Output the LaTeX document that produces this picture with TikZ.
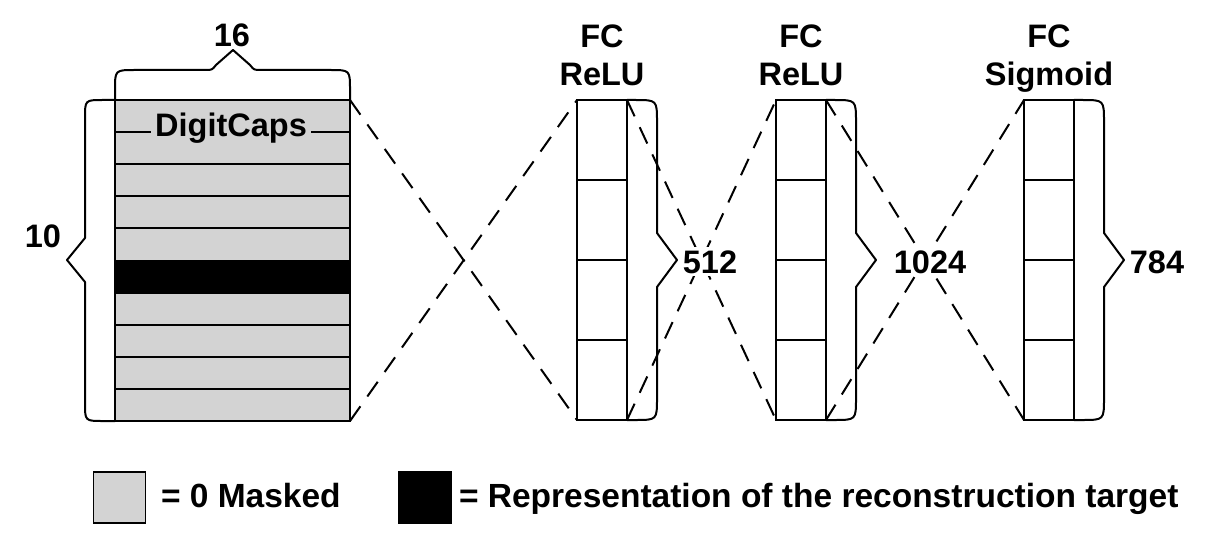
\documentclass[tikz,border=0pt]{standalone}
\usepackage{fontspec}
\setmainfont{Liberation Sans}
\definecolor{maskgray}{RGB}{211,211,211}
\begin{document}
\begin{tikzpicture}[x=1pt,y=-1pt, line width=2pt,
  lbl/.style={font=\fontsize{32.5}{36}\selectfont\bfseries, inner sep=0pt, anchor=base},
  leg/.style={font=\fontsize{33.5}{37}\selectfont\bfseries, inner sep=0pt, anchor=base west},
  colbox/.style={draw, inner sep=0pt, outer sep=0pt, minimum width=50pt, minimum height=320pt},
  conn/.style={dash pattern=on 18pt off 12pt},
  brc/.style={line width=2pt, line join=round},
  rbrace/.pic={\draw[brc] (0,0) -- (8,0) .. controls (30,0) .. (30,22) -- (30,133) -- (50,160) -- (30,187) -- (30,298) .. controls (30,320) .. (8,320) -- (0,320);}]
\useasboundingbox (0,0) rectangle (1209,548);

% DigitCaps block
\node[draw, fill=maskgray, inner sep=0pt, outer sep=0pt, minimum width=235pt, minimum height=321pt] (dc) at (232.5,260.5) {};
\fill (115,260.5) rectangle (350,292.6);
\foreach \yy in {132.1,164.2,196.3,228.4,260.5,292.6,324.7,356.8,388.9}
  \draw (115,\yy) -- (350,\yy);
\draw (dc.north west) rectangle (dc.south east);
\node[lbl, fill=maskgray, inner sep=4pt] (dcl) at (231,137) {DigitCaps};

% FC columns
\node[colbox] (fc1) at (602,260) {};
\node[colbox] (fc2) at (801,260) {};
\node[colbox] (fc3) at (1049,260) {};
\foreach \xx in {577,776,1024}
  \foreach \yy in {180,260,340}
    \draw (\xx,\yy) -- ++(50,0);

% dashed connections
\draw[conn] (dc.north east) -- (fc1.south west);
\draw[conn] (dc.south east) -- (fc1.north west);
\draw[conn] (fc1.north east) -- (fc2.south west);
\draw[conn] (fc1.south east) -- (fc2.north west);
\draw[conn] (fc2.north east) -- (fc3.south west);
\draw[conn] (fc2.south east) -- (fc3.north west);

% braces
\draw[brc] (dc.north west) -- (115,90) .. controls (115,70) .. (135,70) -- (205,70) .. controls (212,70) .. (216,65) -- (233,50) -- (250,65) .. controls (254,70) .. (261,70) -- (330,70) .. controls (350,70) .. (350,90) -- (dc.north east);
\draw[brc] (dc.north west) -- (103,100) .. controls (85,100) .. (85,118) -- (85,238) -- (67,260) -- (85,282) -- (85,403) .. controls (85,421) .. (103,421) -- (dc.south west);
\pic at (fc1.north east) {rbrace};
\pic at (fc2.north east) {rbrace};
\pic at (fc3.north east) {rbrace};

% labels
\node[lbl] (l16) at (232,47) {16};
\node[lbl] (l10) at (43,247) {10};
\node[lbl] (fc1a) at (602,48) {FC};
\node[lbl] (fc1b) at (602,86) {ReLU};
\node[lbl] (fc2a) at (801,48) {FC};
\node[lbl] (fc2b) at (801,86) {ReLU};
\node[lbl] (fc3a) at (1049,48) {FC};
\node[lbl] (fc3b) at (1049,86) {Sigmoid};
\node[lbl, fill=white, inner sep=3pt] (l512) at (710,273) {512};
\node[lbl, fill=white, inner sep=3pt] (l1024) at (930,273) {1024};
\node[lbl] (l784) at (1157,273) {784};

% legend
\node[draw, fill=maskgray, inner sep=0pt, minimum width=52pt, minimum height=51pt, line width=1.5pt] (lg1) at (119.5,497.5) {};
\node[leg] (lt1) at (160,507) {= 0 Masked};
\node[draw, fill=black, inner sep=0pt, minimum width=52pt, minimum height=51pt, line width=1.5pt] (lg2) at (425,497.5) {};
\node[leg] (lt2) at (458,507) {= Representation of the reconstruction target};
\end{tikzpicture}
\end{document}
